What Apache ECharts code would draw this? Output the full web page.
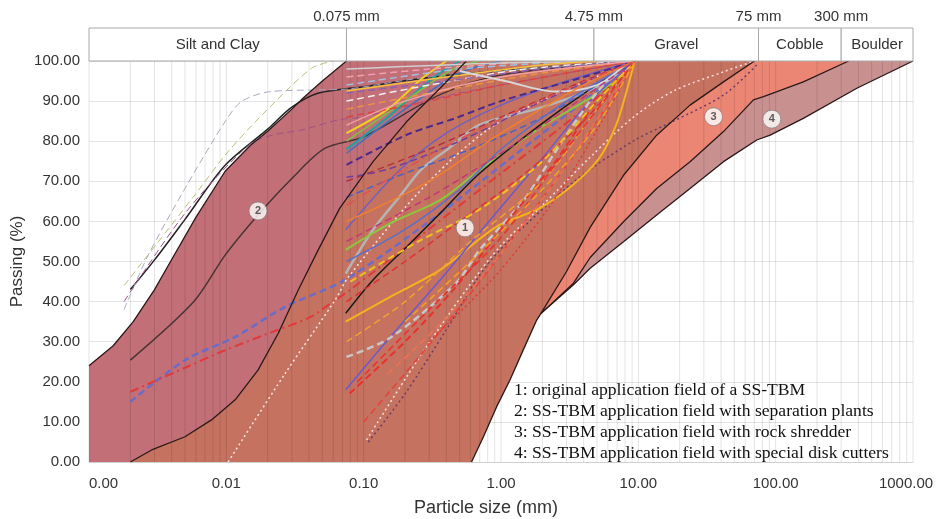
<!DOCTYPE html>
<html>
<head>
<meta charset="utf-8">
<script src="https://cdn.jsdelivr.net/npm/echarts@6/dist/echarts.min.js"></script>
<style>html,body{margin:0;padding:0;background:#fff}#main{width:936px;height:519px}</style>
</head>
<body>
<div id="main"></div>
<script>
// soil classes shown in the header band
const classEdges = [0.001, 0.075, 4.75, 75, 300, 1000];
const classNames = ['Silt and Clay', 'Sand', 'Gravel', 'Cobble', 'Boulder'];
const edgeLabels = ['0.075 mm', '4.75 mm', '75 mm', '300 mm'];
const yTicks = [0, 10, 20, 30, 40, 50, 60, 70, 80, 90, 100];
const gridDecades = [0.001, 0.01, 0.1, 1, 10, 100];
const gridSteps = [1, 2, 3, 4, 5, 6, 7, 8, 9];

// boundaries of the application fields [size mm, passing %]
const envelope = [[0.001,24],[0.0015,29],[0.0021,35],[0.003,43],[0.004,50.5],[0.006,61],[0.0098,72.5],[0.015,79],[0.02,82.5],[0.03,88],[0.0356,90.5],[0.05,95],[0.075,100]];
const field1Left = [[0.002,0],[0.00286,3],[0.005,6.3],[0.0078,10.5],[0.0116,15.5],[0.017,22.9],[0.0239,32.1],[0.0334,42.9],[0.0467,52.9],[0.067,63.3],[0.117,74.9],[0.206,84.9],[0.36,93.2],[0.56,100]];
const field1Right = [[0.61,0],[0.745,6.3],[0.93,13.8],[1.16,20.4],[1.45,27.9],[1.82,35.4],[1.95,37]];
const field3Left = [[1.95,37],[3,47.5],[4.46,58.5],[7.8,71.5],[13.6,81.5],[23.8,89],[41.7,94.8],[70,100]];
const field4Left = [[1.95,37],[3.37,44.6],[4.46,51],[7.8,59.9],[13.6,68.2],[23.8,74.9],[41.7,82.4],[68.9,90.3],[81.5,91.1],[159,94.8],[340,100]];
const field4Right = [[1.95,37],[3.37,44.2],[4.46,48.3],[7.8,54.9],[13.6,61.6],[23.8,68.2],[41.7,74.9],[72.8,80.3],[91.2,81.5],[159,85.7],[390,93.2],[1000,100]];

// numbered markers
const markerPoints = [[0.017,62.6],[0.548,58.4],[35.3,86.1],[93.8,85.5]];
const markerNames = ['2', '1', '3', '4'];

// grading curves of the soil samples
const gradingCurves = [
  [[0.002,15],[0.005,25.4],[0.0116,31.2],[0.0268,38.7],[0.073,45.4],[0.3,60],[1.2,76],[4,90],[9.5,100]],
  [[0.002,17.5],[0.005,23.5],[0.01,28],[0.02,32],[0.04,36],[0.06,40],[0.08,43],[0.25,56],[1,72],[4,88],[9.5,100]],
  [[0.002,25.4],[0.0058,40],[0.0098,51.6],[0.017,61.6],[0.03,70.7],[0.052,78.2],[0.1,81.1],[0.36,91.6],[1,96.5],[9.5,100]],
  [[0.002,43],[0.003,50.4],[0.005,60.5],[0.0098,74],[0.02,83],[0.03,88.5],[0.047,92],[0.1,93.6],[0.43,96.5],[9.5,100]],
  [[0.0018,38],[0.0027,51.6],[0.005,68.2],[0.0098,84.9],[0.0129,89.9],[0.0203,92.3],[0.047,92.8],[0.075,93],[0.3,96],[9.5,100]],
  [[0.0018,44],[0.0059,66.6],[0.0103,77.4],[0.0203,88.2],[0.0418,98.2],[0.06,100]],
  [[0.0018,40],[0.005,62],[0.0145,79],[0.0215,81.5],[0.0355,82.8],[0.065,85.3],[0.1,86.1],[0.5,92],[9.5,100]],
  [[0.0103,0],[0.0267,22],[0.062,40.4],[0.0776,46.2],[0.3,70],[1,85],[9.5,100]],
  [[0.105,5.5],[0.206,21.3],[0.36,33.7],[0.63,45.4],[1,54],[2,64],[4.46,76],[9.2,86],[18,92.5],[41.7,97.3],[70,100]],
  [[0.108,5],[0.2,17],[0.4,33],[0.83,50],[2.5,66],[4.46,73],[9.7,80.5],[18,85],[41.7,91.5],[72.8,99]],
  [[0.074,35],[0.156,41.2],[0.36,47.9],[0.93,58.7],[1.92,63.3],[3.37,69.2],[5.2,75.8],[6.9,84.1],[8.2,92.4],[9.4,100]],
  [[0.074,47],[0.117,57.9],[0.183,66.2],[0.26,72.8],[0.42,78.3],[0.7,84.1],[1.92,88.3],[4.46,92.8],[8.6,98.3],[9.5,100]],
  [[0.074,52.9],[0.156,59.5],[0.36,65.3],[0.7,72.8],[1.92,83.3],[4.46,90.8],[7.8,96.6],[9.5,100]],
  [[0.074,37.1],[0.117,45.4],[0.206,53.7],[0.36,62],[0.7,72],[1.92,84],[4.46,93],[9.5,100]],
  [[0.074,18],[0.156,31.2],[0.36,45.4],[0.83,60.3],[1.92,75],[4.46,90],[9.5,100]],
  [[0.074,57.9],[0.183,72.8],[0.4,82],[1,89],[3,95],[9.5,100]],
  [[0.075,26.2],[0.156,31],[0.47,44.6],[0.7,52.9],[1.45,65.1],[2.5,77.5],[4.46,90],[6.9,97.4],[9.5,100]],
  [[0.079,17.1],[0.2,30],[0.47,43.7],[1,58],[2.5,75],[5,90],[9.5,100]],
  [[0.075,40],[0.2,50],[0.5,60],[1.5,72],[4,85],[9.5,100]],
  [[0.1,10],[0.25,26],[0.6,42],[1.5,60],[4,80],[9.5,100]],
  [[0.075,30],[0.2,40],[0.6,55],[2,70],[5,88],[9.5,100]],
  [[0.08,45],[0.25,55],[0.7,63],[2,75],[5,90],[9.5,100]],
  [[0.075,74.1],[0.206,81.6],[0.47,85.8],[1,90],[4,96],[9.5,100]],
  [[0.075,66],[0.2,72],[0.6,78],[2,86],[9.5,100]],
  [[0.075,50],[0.2,58],[0.5,68],[1,78],[3,90],[9.5,100]],
  [[0.075,82],[0.15,88],[0.27,95.8],[0.4,100]],
  [[0.075,78],[0.15,86],[0.32,95.8],[0.5,100]],
  [[0.075,77],[0.2,88],[0.5,97],[1,100]],
  [[0.075,80],[0.2,90],[0.45,98],[0.7,100]],
  [[0.075,96],[0.3,98],[2,100]],
  [[0.075,94],[0.5,98],[4,100]],
  [[0.075,90],[0.3,94],[1.5,98],[9.5,100]],
  [[0.075,88],[0.3,92],[2,97],[9.5,100]],
  [[0.075,92],[0.4,95],[2,98],[9.5,100]],
  [[0.075,86],[0.3,90],[1,94],[9.5,100]],
  [[0.075,84],[0.2,90],[1,96],[9.5,100]],
  [[0.075,98],[1,99.5],[9.5,100]],
  [[0.075,92.5],[0.4,96],[2,99],[5,100]],
  [[0.075,70],[0.3,78],[1,86],[4,95],[9.5,100]],
  [[0.075,71],[0.15,73],[0.5,80],[2,90],[9.5,100]],
  [[0.5,97.5],[1.07,95],[2.5,92.4],[5,94],[8,99]],
  [[0.075,60],[0.3,70],[1,82],[4,94],[9.5,100]],
  [[0.3,30],[1,48],[3,70],[9.5,100]],
  [[0.15,22],[0.4,36],[1,52],[3,74],[9.5,100]],
  [[0.09,20],[0.3,38],[1,56],[3,78],[9.5,100]],
  [[0.2,35],[0.6,50],[2,68],[5,84],[9.5,100]],
  [[0.075,64],[0.25,75],[0.8,84],[3,93],[9.5,100]],
  [[0.075,55],[0.3,66],[1,77],[3,88],[9.5,100]]
];
const curveColors = ['#6b6bc8','#e03a3a','#4a3434','#222222','#a8a8c0','#b8c078','#a0508a','#f4e4e4','#f4e0e0','#6a3a6a',
  '#f5b21c','#b4b4b4','#8cc63f','#1a1a1a','#6a5acd','#7060c0','#c8c8c8','#e8302c','#e03030','#e8403a',
  '#f0a030','#f0c020','#4b2a8c','#5060c0','#5a70c8','#f0d020','#20a0a0','#4070c0','#80c040','#f0a0b0',
  '#a0c0e0','#f0f0f0','#f09040','#9060b0','#e04040','#f0a0a0','#d0d0d0','#f4c040','#b03040','#7040a0',
  '#d8d8d8','#f08030','#e03838','#f07050','#e83030','#f4a020','#e05050','#c03878'];
const curveTypes = ['dashed','dotdash','solid','solid','dashed','dashed','dashed','dotted','dotted','dotted',
  'solid','solid','solid','solid','solid','solid','dashed','dashed','dashed','dashed',
  'dashed','dashed','dashed','dashed','solid','solid','solid','solid','solid','dashed',
  'dashed','dashed','dashed','dashed','dashed','solid','solid','solid','dashed','dashed',
  'solid','solid','dotted','dashed','dashed','dashed','dotdash','dashed'];
const curveWidths = [2.5,2,1.5,1.5,1,1,1,1.5,1.5,1.5,
  2,2.5,2,1.5,1.5,1.5,2.5,2,1.5,1.5,
  1.5,2,2,1.5,1.5,2,2,1.5,1.5,1.5,
  1.5,1.5,1.5,1.5,1.5,1.5,1.5,1.5,1.5,1.5,
  2,1.5,1.5,1.5,1.5,1.5,1.5,1.5];

const regionColors = ['#c26f77', '#c67260', '#ec8674', '#c99090'];

const chart = echarts.init(document.getElementById('main'));

const rev = a => a.slice().reverse();
const polys = [
  [[0.001, 0]].concat(envelope, rev(field1Left)),
  field1Left.concat(rev(field3Left), rev(field1Right)),
  field3Left.concat(rev(field4Left)),
  field4Left.concat(rev(field4Right))
];

const series = [];
polys.forEach(function (poly, i) {
  series.push({
    type: 'custom', z: 1, silent: true, data: poly,
    renderItem: function (params, api) {
      if (params.dataIndex !== 0) return;
      return {
        type: 'polygon',
        shape: { points: poly.map(p => api.coord(p)) },
        style: { fill: regionColors[i] }
      };
    }
  });
});

// log grid lines drawn over the fill
const gridValues = [];
gridDecades.forEach(d => gridSteps.forEach(s => gridValues.push(+(d * s).toPrecision(3))));
gridValues.push(1000);
series.push({
  type: 'custom', z: 2, silent: true, data: gridValues.map(v => [v, 50]),
  renderItem: function (params, api) {
    const a = api.coord([api.value(0), 0]);
    const b = api.coord([api.value(0), 100]);
    return {
      type: 'line',
      shape: { x1: a[0], y1: a[1], x2: b[0], y2: b[1] },
      style: { stroke: 'rgba(0,0,0,0.11)', lineWidth: 1 }
    };
  }
});

gradingCurves.forEach(function (c, i) {
  let t = curveTypes[i];
  let dash = t === 'dashed' ? [7, 4] : t === 'dotted' ? [2, 3] : t === 'dotdash' ? [9, 4, 2, 4] : 'solid';
  series.push({
    type: 'line', z: 3, data: c, symbol: 'none', smooth: 0.3, silent: true,
    lineStyle: { color: curveColors[i], width: curveWidths[i], type: dash }
  });
});

[envelope, field1Left, field1Right.concat(field3Left.slice(1)), field4Left, field4Right].forEach(function (b) {
  series.push({
    type: 'line', z: 4, data: b, symbol: 'none', silent: true,
    lineStyle: { color: '#2a1818', width: 1.3 }
  });
});

series.push({
  type: 'scatter', z: 5, data: markerPoints, symbolSize: 18, silent: true,
  itemStyle: { color: '#fff', borderColor: '#777', borderWidth: 0.8 },
  label: {
    show: true, position: 'inside', color: '#333', fontSize: 11, fontWeight: 'bold',
    formatter: p => markerNames[p.dataIndex]
  }
});

// header band with soil classes
const classCells = classNames.map((n, i) => [classEdges[i], classEdges[i + 1]]);
series.push({
  type: 'custom', z: 6, silent: true, clip: false, data: classCells,
  renderItem: function (params, api) {
    const a = api.coord([api.value(0), 100]);
    const b = api.coord([api.value(1), 100]);
    return {
      type: 'group',
      children: [
        { type: 'rect', shape: { x: a[0], y: a[1] - 33, width: b[0] - a[0], height: 33 },
          style: { fill: '#fff', stroke: '#a8a8a8', lineWidth: 1 } },
        { type: 'text', x: (a[0] + b[0]) / 2, y: a[1] - 16,
          style: { text: classNames[params.dataIndex], fill: '#333', font: '15px "Liberation Sans", Arial, sans-serif',
            align: 'center', verticalAlign: 'middle' } }
      ]
    };
  }
});
series.push({
  type: 'custom', z: 6, silent: true, clip: false, data: classEdges.slice(1, 5).map(v => [v, 100]),
  renderItem: function (params, api) {
    const a = api.coord([api.value(0), 100]);
    return {
      type: 'text', x: a[0], y: a[1] - 44,
      style: { text: edgeLabels[params.dataIndex], fill: '#333', font: '15px "Liberation Sans", Arial, sans-serif',
        align: 'center', verticalAlign: 'middle' }
    };
  }
});

const option = {
  animation: false,
  backgroundColor: '#fff',
  grid: { left: 89, right: 23, top: 61, bottom: 57, outerBoundsMode: 'none', containLabel: false },
  xAxis: {
    type: 'log', logBase: 10, min: 0.001, max: 1000,
    name: 'Particle size (mm)', nameLocation: 'middle', nameGap: 37,
    nameTextStyle: { fontSize: 18, color: '#333', fontFamily: 'Liberation Sans', padding: [0, 30, 0, 0] },
    axisLine: { lineStyle: { color: '#d0d0d0' } },
    axisTick: { show: false },
    splitLine: { show: false },
    axisLabel: {
      fontSize: 15, color: '#333', margin: 14, fontFamily: 'Liberation Sans', alignMinLabel: 'left',
      formatter: v => v >= 1000 ? '{last|' + Number(v).toFixed(2) + '}' : Number(v).toFixed(2),
      rich: { last: { fontSize: 15, color: '#333', fontFamily: 'Liberation Sans', padding: [0, 14, 0, 0] } }
    }
  },
  yAxis: {
    type: 'value', min: 0, max: 100, interval: 10,
    name: 'Passing (%)', nameLocation: 'middle', nameGap: 63, nameMoveOverlap: false,
    nameTextStyle: { fontSize: 17, color: '#333', fontFamily: 'Liberation Sans' },
    axisLine: { show: false }, axisTick: { show: false },
    splitLine: { lineStyle: { color: '#e4e4e4' } },
    axisLabel: { fontSize: 15, color: '#333', margin: 9, fontFamily: 'Liberation Sans',
      formatter: v => yTicks.indexOf(v) >= 0 ? v.toFixed(2) : '' }
  },
  graphic: [{
    type: 'text', left: 514, top: 380, z: 10,
    style: {
      text: '1: original application field of a SS-TBM\n2: SS-TBM application field with separation plants\n3: SS-TBM application field with rock shredder\n4: SS-TBM application field with special disk cutters',
      font: '17.6px "Liberation Serif", "Times New Roman", serif', fill: '#111', lineHeight: 21
    }
  }],
  series: series
};
chart.setOption(option);
</script>
</body>
</html>
